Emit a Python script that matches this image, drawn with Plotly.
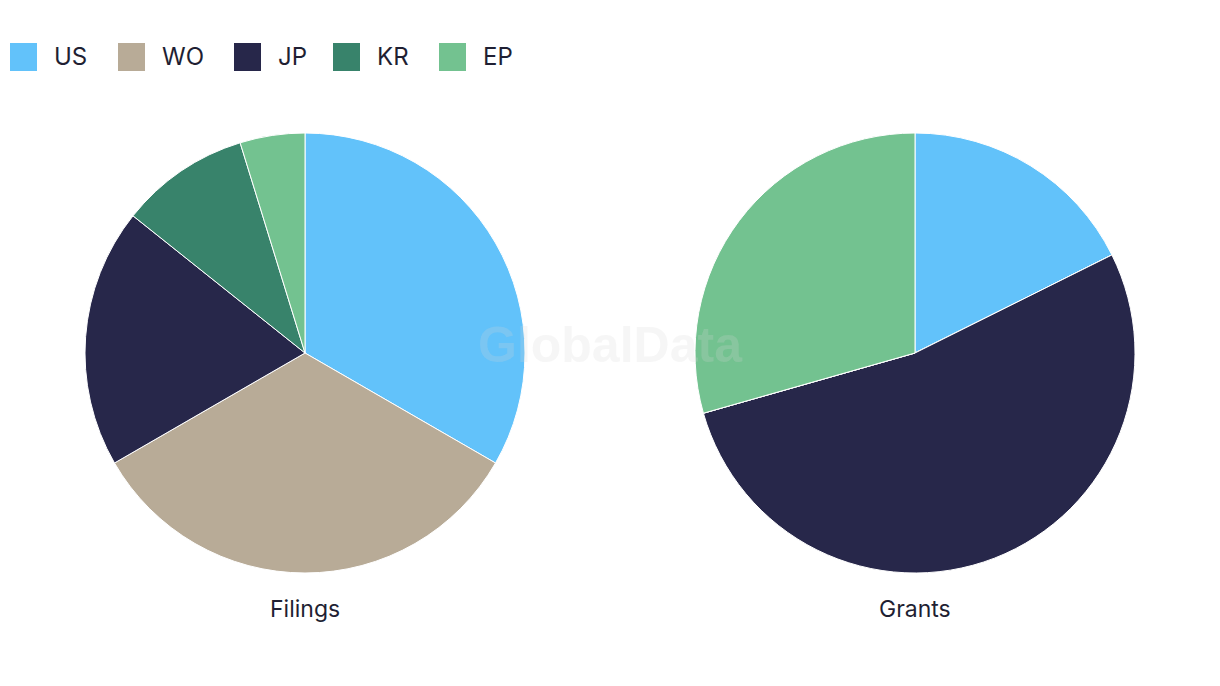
import plotly.graph_objects as go

# Data
labels = ["US", "WO", "JP", "KR", "EP"]
filings = [7, 7, 4, 2, 1]
grants = [3, 0, 9, 0, 5]
titles = ["Filings", "Grants"]
colors = ["#62C2FA", "#B8AB97", "#27274A", "#38836B", "#73C290"]

W, H = 1220, 686
OFF = 8  # page body margin

def px(x):
    return (x - OFF) / W

def py(y):
    return 1 - (y - OFF) / H

fig = go.Figure()
domains = [
    dict(x=[px(85), px(525)], y=[py(573), py(133)]),
    dict(x=[px(695), px(1135)], y=[py(573), py(133)]),
]
for vals, dom in zip([filings, grants], domains):
    fig.add_trace(go.Pie(
        labels=labels, values=vals, sort=False, direction="clockwise",
        rotation=0, domain=dom, textinfo="none", hoverinfo="label+value+percent",
        marker=dict(colors=colors, line=dict(color="white", width=1)),
        showlegend=False,
    ))

annotations = []
shapes = []
# Titles
for t, cx in zip(titles, [305, 915]):
    annotations.append(dict(text=t, x=px(cx), y=py(609), xref="paper", yref="paper",
                            showarrow=False, xanchor="center", yanchor="middle",
                            font=dict(family="Inter, Open Sans, sans-serif", size=23, color="#1f1f33")))
# Custom legend
legend_x = [10, 118, 234, 333, 439]
for lab, col, lx in zip(labels, colors, legend_x):
    shapes.append(dict(type="rect", xref="paper", yref="paper",
                       x0=px(lx), x1=px(lx + 27), y0=py(71), y1=py(43),
                       fillcolor=col, line=dict(width=0)))
    annotations.append(dict(text=lab, x=px(lx + 42), y=py(57), xref="paper", yref="paper",
                            showarrow=False, xanchor="left", yanchor="middle",
                            font=dict(family="Inter, Open Sans, sans-serif", size=24, color="#1f1f33")))
# Watermark
annotations.append(dict(text="<b>GlobalData</b>", x=px(610), y=py(345), xref="paper", yref="paper",
                        showarrow=False, xanchor="center", yanchor="middle",
                        font=dict(family="Liberation Sans, Arial, sans-serif", size=50,
                                  color="rgba(215,215,215,0.22)")))

fig.update_layout(
    width=W, height=H, margin=dict(l=0, r=0, t=0, b=0),
    paper_bgcolor="white", plot_bgcolor="white",
    annotations=annotations, shapes=shapes,
)

fig.write_html("out.html")
